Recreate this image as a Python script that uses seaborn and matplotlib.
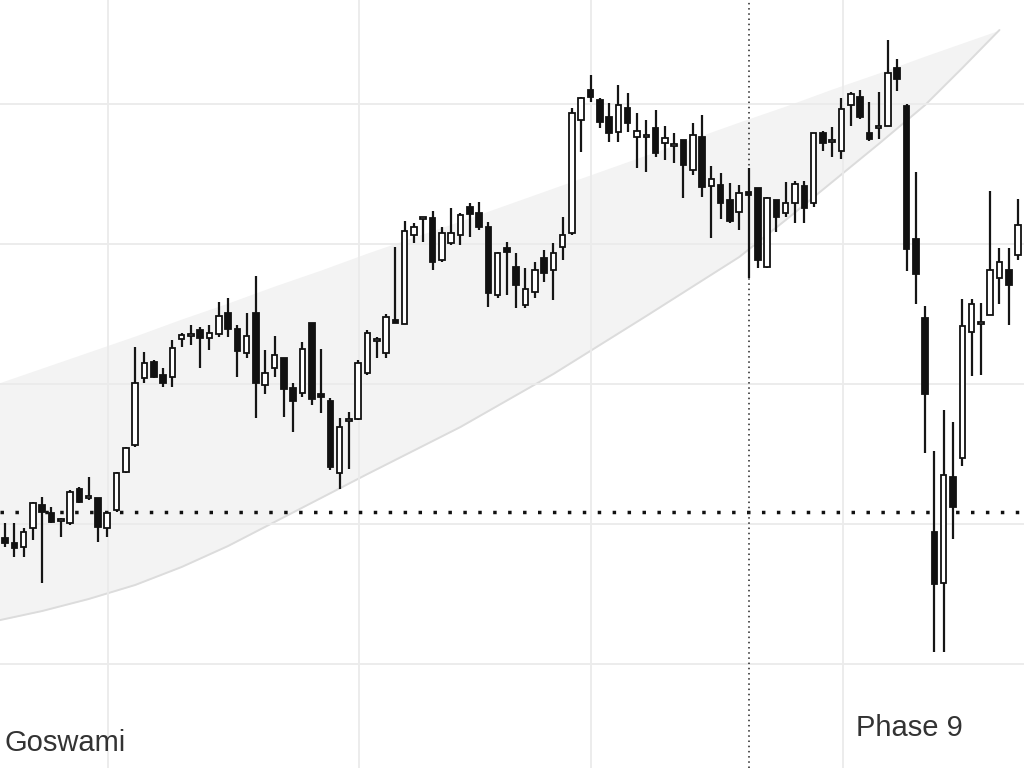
import matplotlib
matplotlib.use("Agg")
import matplotlib.pyplot as plt
import numpy as np
import pandas as pd
import seaborn as sns

# OHLC series, one entry per bar
opens = [264, 266, 261, 257, 276, 299, 291, 283, 281, 315,
         306, 306, 276, 294, 332, 359, 426, 442, 429, 427,
         465, 468, 474, 466, 470, 491, 475, 451, 491, 419,
         436, 446, 416, 411, 481, 410, 403, 331, 383, 385,
         431, 463, 451, 484, 480, 569, 585, 586, 544, 561,
         569, 597, 591, 577, 509, 556, 537, 499, 512, 546,
         534, 557, 571, 684, 714, 704, 687, 672, 696, 667,
         667, 676, 661, 658, 664, 634, 667, 618, 619, 604,
         592, 612, 616, 537, 604, 591, 601, 618, 601, 671,
         662, 653, 699, 707, 671, 676, 678, 736, 698, 565,
         486, 272, 221, 327, 346, 472, 480, 489, 526, 534,
         549, 604]
highs = [271, 281, 281, 276, 302, 307, 297, 286, 314, 317,
         327, 306, 292, 332, 357, 457, 452, 444, 436, 464,
         471, 479, 477, 479, 502, 506, 479, 491, 528, 454,
         468, 446, 421, 462, 481, 455, 406, 386, 392, 444,
         474, 467, 490, 557, 583, 581, 587, 593, 577, 596,
         591, 601, 602, 582, 552, 562, 551, 536, 542, 554,
         561, 587, 696, 707, 729, 706, 701, 719, 711, 691,
         684, 694, 678, 671, 664, 681, 689, 638, 631, 621,
         619, 636, 616, 607, 604, 622, 623, 623, 671, 673,
         677, 706, 712, 714, 702, 712, 764, 745, 700, 632,
         498, 353, 394, 382, 505, 505, 501, 613, 556, 556,
         605, 634]
lows = [242, 257, 247, 247, 264, 221, 281, 267, 279, 301,
        304, 262, 267, 292, 331, 357, 421, 426, 417, 417,
        457, 459, 436, 454, 467, 467, 427, 446, 386, 410,
        427, 387, 372, 407, 399, 391, 334, 315, 335, 384,
        429, 446, 446, 481, 480, 561, 562, 534, 542, 559,
        559, 567, 574, 497, 506, 509, 496, 496, 506, 522,
        504, 544, 569, 652, 702, 676, 662, 662, 672, 636,
        632, 647, 644, 641, 606, 629, 607, 566, 585, 581,
        574, 526, 536, 536, 572, 587, 581, 581, 597, 653,
        647, 645, 678, 685, 663, 665, 678, 713, 533, 500,
        351, 152, 152, 265, 338, 428, 429, 489, 500, 479,
        544, 594]
closes = [252, 261, 256, 272, 301, 292, 282, 285, 312, 302,
          308, 277, 291, 331, 356, 421, 441, 427, 421, 456,
          469, 470, 466, 471, 488, 475, 453, 468, 421, 431,
          449, 415, 403, 455, 405, 407, 337, 377, 385, 441,
          471, 465, 487, 481, 573, 577, 587, 542, 571, 571,
          589, 590, 577, 511, 551, 552, 519, 515, 534, 531,
          551, 569, 691, 706, 707, 682, 671, 699, 681, 673,
          669, 651, 666, 660, 639, 669, 617, 625, 601, 583,
          611, 609, 544, 606, 587, 601, 620, 596, 671, 661,
          664, 695, 710, 687, 665, 678, 731, 725, 555, 530,
          410, 220, 329, 297, 478, 500, 482, 534, 542, 519,
          579, 626]

# Rising channel (upper and lower bounds at selected bars)
band_bar = [0, 5, 10, 15, 20, 25, 30, 35, 40, 50, 60, 70, 80, 85, 90, 95, 100, 104, 108]
band_upper = [420, 436, 452, 468, 485, 501, 518, 534, 551, 583, 616, 649, 682,
              698, 715, 731, 748, 761, 774]
band_lower = [183, 193, 205, 219, 237, 258, 282, 306, 330, 377, 430, 488, 547,
              584, 622, 660, 699, 736, 774]

# Reference levels and grid positions
grid_prices = [140, 280, 420, 560, 700]
grid_bars = [12.03, 39.14, 64.05, 91.17]
level_price = 292
marker_bar = 81

left_label = "Goswami"
right_label = "Phase 9"

sns.set_theme(style="white")
plt.rcParams["font.family"] = ["Liberation Sans", "DejaVu Sans"]

df = pd.DataFrame({"open": opens, "high": highs, "low": lows, "close": closes})
df["bar"] = np.arange(len(df))
df["up"] = df["close"] >= df["open"]
df["body_low"] = df[["open", "close"]].min(axis=1)
df["body_h"] = (df["close"] - df["open"]).abs().clip(lower=1.5)

band = pd.DataFrame({"bar": band_bar, "upper": band_upper, "lower": band_lower})

fig = plt.figure(figsize=(10.24, 7.68), dpi=100)
ax = fig.add_axes([0, 0, 1, 1])
ax.set_facecolor("white")

# channel
ax.fill_between(band["bar"], band["lower"], band["upper"], color="#f3f3f3",
                linewidth=0, zorder=0.5)
sns.lineplot(data=band, x="bar", y="lower", ax=ax, color="#dcdcdc",
             linewidth=1.4, zorder=0.8, legend=False)

# grid
for p in grid_prices:
    ax.axhline(p, color="#ebebeb", linewidth=1.3, zorder=1)
for b in grid_bars:
    ax.axvline(b, color="#ebebeb", linewidth=1.3, zorder=1)

# reference lines
ax.axhline(level_price, color="#111111", linewidth=2.5,
           linestyle=(0, (1, 3.3)), zorder=2)
ax.axvline(marker_bar, color="#222222", linewidth=1.1,
           linestyle=(0, (1, 2.4)), zorder=2)

# wicks
ax.vlines(df["bar"], df["low"], df["high"], color="#151515",
          linewidth=1.6, zorder=3)

# bodies
face = np.where(df["up"], "white", "#111111")
ax.bar(df["bar"], df["body_h"], bottom=df["body_low"], width=0.6,
       color=face, edgecolor="#111111", linewidth=1.3, zorder=4)

ax.set_xlim(0.46, 110.64)
ax.set_ylim(36, 804)
ax.set_xticks([])
ax.set_yticks([])
ax.set_xlabel("")
ax.set_ylabel("")
for s in ax.spines.values():
    s.set_visible(False)

fig.text(4 / 1024, 1 - 751 / 768, left_label, fontsize=21, color="#333333",
         va="baseline", ha="left")
fig.text(856 / 1024, 1 - 736 / 768, right_label, fontsize=21, color="#333333",
         va="baseline", ha="left")

fig.savefig("out.png", dpi=100, facecolor="white")
